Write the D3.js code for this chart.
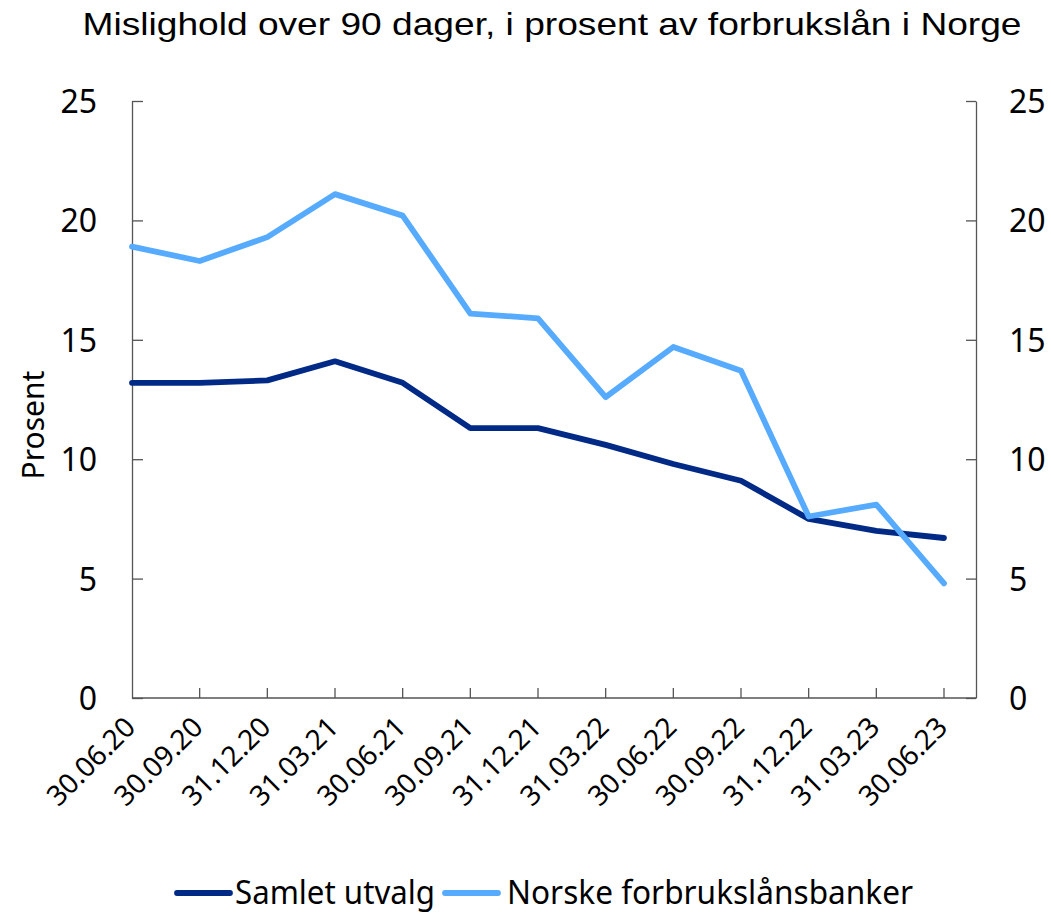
<!DOCTYPE html>
<html>
<head>
<meta charset="utf-8">
<script src="https://cdn.jsdelivr.net/npm/d3@7"></script>
<style>
	body { margin: 0; background: #fff; }
	text { font-family: "Noto Sans", "Open Sans", sans-serif; fill: #000; }
	.title { font-family: "Liberation Sans", Arial, sans-serif; }
</style>
</head>
<body>
<script>
var dates = ['30.06.20', '30.09.20', '31.12.20', '31.03.21', '30.06.21', '30.09.21', '31.12.21',
	'31.03.22', '30.06.22', '30.09.22', '31.12.22', '31.03.23', '30.06.23'];
var samletUtvalg = [13.2, 13.2, 13.3, 14.1, 13.2, 11.3, 11.3, 10.6, 9.8, 9.1, 7.5, 7.0, 6.7];
var norskeBanker = [18.9, 18.3, 19.3, 21.1, 20.2, 16.1, 15.9, 12.6, 14.7, 13.7, 7.6, 8.1, 4.8];
var yTicks = [0, 5, 10, 15, 20, 25];
var seriesNames = ['Samlet utvalg', 'Norske forbrukslånsbanker'];
var seriesColors = ['#002a85', '#57abff'];

var w = 1051, h = 913;
var plotLeft = 132, plotRight = 976, plotTop = 101, plotBottom = 698;
var lastX = 944;

var svg = d3.select('body').append('svg')
	.attr('width', w)
	.attr('height', h);

var x = d3.scalePoint().domain(dates).range([plotLeft, lastX]);
var y = d3.scaleLinear().domain([0, 25]).range([plotBottom, plotTop]);

// title
svg.append('text')
	.attr('class', 'title')
	.attr('x', 552)
	.attr('y', 35)
	.attr('text-anchor', 'middle')
	.attr('font-size', 32)
	.attr('textLength', 939)
	.attr('lengthAdjust', 'spacingAndGlyphs')
	.text('Mislighold over 90 dager, i prosent av forbrukslån i Norge');

// y axes, ticks pointing inwards
svg.append('g')
	.attr('transform', 'translate(' + plotLeft + ',0)')
	.call(d3.axisRight(y).tickValues(yTicks).tickSize(11).tickSizeOuter(0).tickFormat(''));

svg.append('g')
	.attr('transform', 'translate(' + plotRight + ',0)')
	.call(d3.axisLeft(y).tickValues(yTicks).tickSize(10).tickSizeOuter(0).tickFormat(''));

svg.selectAll('.domain, .tick line').attr('stroke', '#555').attr('stroke-width', 1.3);

svg.append('g').selectAll('text')
	.data(yTicks)
	.enter()
	.append('text')
	.attr('x', 97)
	.attr('y', function(d) { return y(d) + 12; })
	.attr('text-anchor', 'end')
	.attr('font-size', 32)
	.text(function(d) { return d; });

svg.append('g').selectAll('text')
	.data(yTicks)
	.enter()
	.append('text')
	.attr('x', 1009)
	.attr('y', function(d) { return y(d) + 12; })
	.attr('text-anchor', 'start')
	.attr('font-size', 32)
	.text(function(d) { return d; });

// x axis
svg.append('line')
	.attr('x1', plotLeft).attr('x2', plotRight)
	.attr('y1', plotBottom).attr('y2', plotBottom)
	.attr('stroke', '#555').attr('stroke-width', 1.3);

svg.append('g').selectAll('line')
	.data(dates.slice(1))
	.enter()
	.append('line')
	.attr('x1', function(d) { return x(d); })
	.attr('x2', function(d) { return x(d); })
	.attr('y1', plotBottom).attr('y2', plotBottom - 10)
	.attr('stroke', '#555').attr('stroke-width', 1.3);

svg.append('g').selectAll('text')
	.data(dates)
	.enter()
	.append('text')
	.attr('transform', function(d) { return 'translate(' + (x(d) + 5) + ',' + (plotBottom + 31) + ') rotate(-45)'; })
	.attr('text-anchor', 'end')
	.attr('font-size', 28)
	.text(function(d) { return d; });

// y title
svg.append('text')
	.attr('transform', 'translate(44,425) rotate(-90)')
	.attr('text-anchor', 'middle')
	.attr('font-size', 30)
	.text('Prosent');

// lines
var line = d3.line()
	.x(function(d, i) { return x(dates[i]); })
	.y(function(d) { return y(d); });

[samletUtvalg, norskeBanker].forEach(function(s, i) {
	svg.append('path')
		.datum(s)
		.attr('d', line)
		.attr('fill', 'none')
		.attr('stroke', seriesColors[i])
		.attr('stroke-width', 5.8)
		.attr('stroke-linejoin', 'round')
		.attr('stroke-linecap', 'round');
});

// legend
var legendPos = [{ lx: 177, tx: 235, len: 200 }, { lx: 445, tx: 507, len: 406 }];
seriesNames.forEach(function(name, i) {
	var p = legendPos[i];
	svg.append('line')
		.attr('x1', p.lx).attr('x2', p.lx + 53)
		.attr('y1', 893).attr('y2', 893)
		.attr('stroke', seriesColors[i])
		.attr('stroke-width', 5.8)
		.attr('stroke-linecap', 'round');
	svg.append('text')
		.attr('x', p.tx)
		.attr('y', 904)
		.attr('font-size', 32)
		.attr('textLength', p.len)
		.attr('lengthAdjust', 'spacingAndGlyphs')
		.text(name);
});
</script>
</body>
</html>
